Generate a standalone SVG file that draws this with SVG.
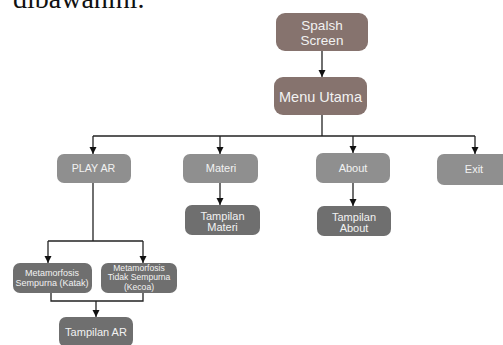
<svg xmlns="http://www.w3.org/2000/svg" width="503" height="345" viewBox="0 0 503 345">
<defs>
<marker id="ah" markerWidth="8" markerHeight="8" refX="7" refY="4" orient="auto" markerUnits="userSpaceOnUse">
<path d="M0,0.5 L7,4 L0,7.5 z" fill="#111"/>
</marker>
<style>
.b{fill:#86736e}
.g{fill:#8f8f8f}
.d{fill:#6f6f6f}
.t{font-family:"Liberation Sans",Arial,sans-serif;fill:#f2f2f2;text-anchor:middle}
.c{fill:none;stroke:#222;stroke-width:1.3}
</style>
</defs>
<rect width="503" height="345" fill="#fff"/>
<text x="13" y="8" font-family="Liberation Serif,Times New Roman,serif" font-size="28" fill="#111">dibawahini.</text>
<g id="connectors" class="c">
<path d="M322,51 V77" marker-end="url(#ah)"/>
<path d="M322,115 V136"/>
<path d="M93,136 H475"/>
<path d="M93,136 V154" marker-end="url(#ah)"/>
<path d="M220,136 V154" marker-end="url(#ah)"/>
<path d="M353,136 V153" marker-end="url(#ah)"/>
<path d="M475,136 V154" marker-end="url(#ah)"/>
<path d="M220,183 V205" marker-end="url(#ah)"/>
<path d="M353,183 V206" marker-end="url(#ah)"/>
<path d="M93,183 V241"/>
<path d="M48,241 H143"/>
<path d="M48,241 V263" marker-end="url(#ah)"/>
<path d="M143,241 V263" marker-end="url(#ah)"/>
<path d="M51,293 V301 H143 V293"/>
<path d="M96,301 V317" marker-end="url(#ah)"/>
</g>
<g id="splash"><rect class="b" x="276" y="13" width="92" height="38" rx="9"/><text class="t" font-size="13.5" x="322" y="30">Spalsh</text><text class="t" font-size="13.5" x="322" y="45">Screen</text></g>
<g id="menu"><rect class="b" x="274" y="77" width="93" height="38" rx="9"/><text class="t" font-size="14.5" x="320.5" y="102">Menu Utama</text></g>
<g id="play"><rect class="g" x="57" y="154" width="74" height="29" rx="7"/><text class="t" font-size="10.7" x="93.5" y="172">PLAY AR</text></g>
<g id="materi"><rect class="g" x="183" y="154" width="75" height="29" rx="7"/><text class="t" font-size="11" x="221" y="172">Materi</text></g>
<g id="about"><rect class="g" x="316" y="153" width="74" height="30" rx="7"/><text class="t" font-size="11" x="353" y="172">About</text></g>
<g id="exit"><rect class="g" x="437" y="154" width="74" height="31" rx="7"/><text class="t" font-size="11" x="474" y="173">Exit</text></g>
<g id="tmateri"><rect class="d" x="185" y="205" width="75" height="30" rx="7"/><text class="t" font-size="11" x="222.5" y="219.5">Tampilan</text><text class="t" font-size="11" x="222.5" y="231">Materi</text></g>
<g id="tabout"><rect class="d" x="317" y="206" width="74" height="30" rx="7"/><text class="t" font-size="11" x="354" y="220.5">Tampilan</text><text class="t" font-size="11" x="354" y="232">About</text></g>
<g id="katak"><rect class="d" x="13" y="263" width="79" height="30" rx="7"/><text class="t" font-size="9" x="52" y="276">Metamorfosis</text><text class="t" font-size="9" x="52" y="285.5">Sempurna (Katak)</text></g>
<g id="kecoa"><rect class="d" x="101" y="263" width="76" height="30" rx="7"/><text class="t" font-size="8.6" x="139" y="270.5">Metamorfosis</text><text class="t" font-size="8.6" x="139" y="280">Tidak Sempurna</text><text class="t" font-size="8.6" x="139" y="289.5">(Kecoa)</text></g>
<g id="tar"><rect class="d" x="59" y="317" width="74" height="30" rx="7"/><text class="t" font-size="11" x="96" y="336">Tampilan AR</text></g>
</svg>
